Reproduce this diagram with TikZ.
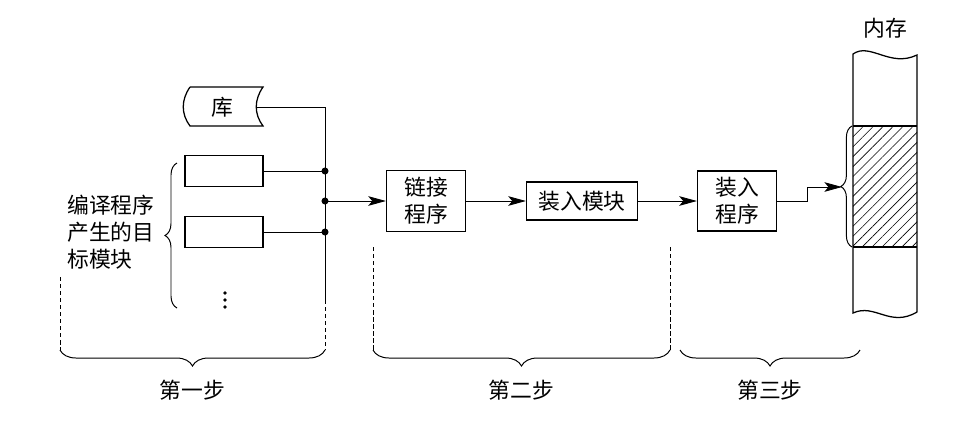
\documentclass[tikz,border=0pt]{standalone}
\usepackage{fontspec}
\newfontfamily\cjk{Noto Sans CJK SC}
\usepackage{tikz}
\usetikzlibrary{arrows.meta, positioning, decorations.pathreplacing, patterns.meta}
\tikzset{
  every picture/.style={font=\cjk\fontsize{15.5}{19.2}\selectfont, >={Stealth[length=4.4mm, width=2.4mm, inset=1mm]}},
  box/.style={draw, line width=0.9pt, inner sep=0pt, align=center},
  conn/.style={line width=0.6pt},
  flecha/.style={->, line width=0.6pt},
  guia/.style={densely dashed, line width=0.6pt},
  llave/.style={decorate, decoration={brace, amplitude=#1}, line width=0.7pt},
}

\begin{document}
\begin{tikzpicture}[x=0.025cm, y=-0.025cm]
  \useasboundingbox (0,0) rectangle (973,423);
  % primer paso
  \node[minimum width=1.7cm, minimum height=0.975cm, inner sep=0pt] (lib) at (222,107) {库};
  \draw[line width=0.9pt] (190,87) -- (263,87) .. controls (254,100) and (254,114) .. (263,126)
    -- (190,126) .. controls (181,114) and (181,100) .. (190,87);
  \node[box, minimum width=1.95cm, minimum height=0.775cm] (m1) at (224,171) {};
  \node[box, minimum width=1.95cm, minimum height=0.775cm] (m2) at (224,232) {};
  \foreach \y in {293,300,307} {\fill (225,\y) circle (1.3pt);}
  \node[anchor=west, align=left, inner sep=0pt] (mtxt) at (67,232) {编译程序\\产生的目\\标模块};
  \draw[llave=0.3cm] (177,308) -- (177,163);
  \coordinate (j0) at (325,107);
  \coordinate (j1) at (325,171);
  \coordinate (j2) at (325,201);
  \coordinate (j3) at (325,232);
  \coordinate (j4) at (325,300);
  \draw[conn] (lib.east) -- (j0) -- (j4);
  \draw[conn] (m1.east) -- (j1);
  \draw[conn] (m2.east) -- (j3);
  \foreach \j in {j1,j2,j3} {\fill (\j) circle (2.5pt);}
  % segundo y tercer paso
  \node[box, minimum width=1.975cm, minimum height=1.525cm] (link) at (426,201) {链接\\程序};
  \node[box, minimum width=2.775cm, minimum height=0.95cm] (lmod) at (582,201) {装入模块};
  \node[box, minimum width=1.975cm, minimum height=1.5cm] (ldr) at (737,201) {装入\\程序};
  \draw[flecha] (j2) -- (link);
  \draw[flecha] (link) -- (lmod);
  \draw[flecha] (lmod) -- (ldr);
  % memoria
  \node (mem) at (885,28) {内存};
  \fill[pattern={Lines[angle=45, distance=5pt, line width=0.45pt]}] (853,126) rectangle (917,247);
  \draw[line width=0.9pt] (853,54) .. controls (870,42) and (890,68) .. (917,55) -- (917,312)
    .. controls (890,328) and (875,303) .. (853,313) -- cycle;
  \draw[line width=0.9pt] (853,126) -- (917,126) (853,247) -- (917,247);
  \draw[llave=0.28cm] (852,247) -- (852,126);
  \coordinate (mtip) at (842,187);
  \draw[flecha] (ldr.east) -- ++(30,0) |- (mtip);
  % llaves de los pasos
  \draw[guia] (60,277) -- (60,350);
  \draw[guia] (j4) -- (325,350);
  \draw[guia] (373,247) -- (373,350);
  \draw[guia] (670,247) -- (670,350);
  \draw[llave=0.4cm, decoration={mirror}] (60,350) -- (325,350) node[midway, below=0.62cm] (s1) {第一步};
  \draw[llave=0.4cm, decoration={mirror}] (373,350) -- (670,350) node[midway, below=0.62cm] (s2) {第二步};
  \draw[llave=0.4cm, decoration={mirror}] (680,350) -- (860,350) node[midway, below=0.62cm] (s3) {第三步};
\end{tikzpicture}
\end{document}
